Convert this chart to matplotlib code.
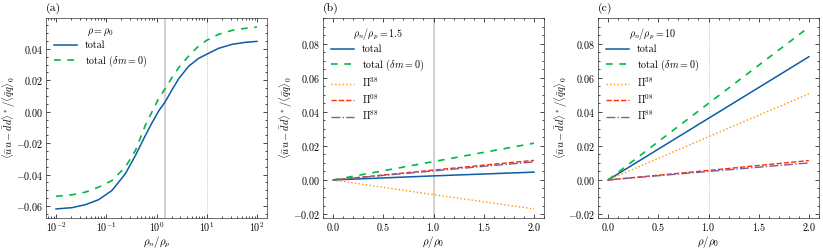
import matplotlib
matplotlib.use("Agg")
import matplotlib.pyplot as plt
import numpy as np
from matplotlib.ticker import MultipleLocator

plt.rcParams.update({
    "font.family": "serif",
    "font.serif": ["cmr10"],
    "mathtext.fontset": "cm",
    "axes.formatter.use_mathtext": True,
    "font.size": 7.2,
    "axes.labelsize": 8,
    "axes.linewidth": 0.5,
    "axes.edgecolor": "#333333",
    "xtick.direction": "in",
    "ytick.direction": "in",
    "xtick.top": True,
    "ytick.right": True,
    "xtick.minor.visible": True,
    "ytick.minor.visible": True,
    "xtick.major.size": 3,
    "ytick.major.size": 3,
    "xtick.minor.size": 1.5,
    "ytick.minor.size": 1.5,
    "xtick.major.width": 0.5,
    "ytick.major.width": 0.5,
    "xtick.minor.width": 0.5,
    "ytick.minor.width": 0.5,
    "xtick.major.pad": 2.0,
    "ytick.major.pad": 2.2,
    "legend.frameon": False,
})

C_BLUE, C_GREEN, C_ORANGE, C_RED, C_PURPLE = "#0C5DA5", "#00B945", "#FF9500", "#FF2C00", "#845B97"

# (a) rho = rho_0, vs rho_n/rho_p (log axis), read at log10 positions
log_ratio_a = [-2.0, -1.68, -1.416, -1.15, -0.885, -0.62, -0.42, -0.22, -0.089,
               0.044, 0.177, 0.309, 0.442, 0.641, 0.840, 1.0, 1.238, 1.504, 1.769, 2.0]
total_a = [-0.0619, -0.0611, -0.0592, -0.0560, -0.0501, -0.0395, -0.0279, -0.0150,
           -0.0070, 0.0005, 0.0065, 0.0140, 0.0210, 0.0290, 0.0340, 0.0366,
           0.0404, 0.0429, 0.0442, 0.0448]
total_dm0_a = [-0.0539, -0.0529, -0.0512, -0.0480, -0.0438, -0.0353, -0.0247, -0.0085,
               0.0000, 0.0085, 0.0150, 0.0218, 0.0281, 0.0355, 0.0419, 0.0455,
               0.0493, 0.0518, 0.0531, 0.0539]

# (b), (c) vs rho/rho_0
rho = [0.0, 0.5, 1.0, 1.5, 2.0]
b_total = [0.0, 0.0012, 0.0024, 0.0035, 0.0046]
b_total_dm0 = [0.0, 0.0054, 0.0108, 0.0162, 0.0216]
b_pi38 = [0.0, -0.0043, -0.0086, -0.0128, -0.0170]
b_pi08 = [0.0, 0.0029, 0.0058, 0.0087, 0.0115]
b_pi88 = [0.0, 0.0027, 0.0053, 0.0080, 0.0106]

c_total = [0.0, 0.0181, 0.0362, 0.0543, 0.0724]
c_total_dm0 = [0.0, 0.0225, 0.0450, 0.0674, 0.0898]
c_pi38 = [0.0, 0.0127, 0.0254, 0.0380, 0.0506]
c_pi08 = [0.0, 0.0028, 0.0056, 0.0085, 0.0114]
c_pi88 = [0.0, 0.0025, 0.0050, 0.0075, 0.0100]

ylab = r"$\langle \bar{u}u - \bar{d}d\rangle^* / \langle \bar{q}q\rangle_0$"

fig = plt.figure(figsize=(8.23, 2.49), dpi=100)
W, H = 823, 249
def box(x0, x1, y0=18, y1=218):
    return [x0 / W, 1 - y1 / H, (x1 - x0) / W, (y1 - y0) / H]

ax_a = fig.add_axes(box(46, 267))
ax_b = fig.add_axes(box(323, 544))
ax_c = fig.add_axes(box(598, 819), sharey=ax_b)

legend_kw = dict(loc="upper left", handlelength=2.3, fontsize=7.2, title_fontsize=7.2,
                 labelspacing=0.3, borderaxespad=0.4)

def labels(ax, xlab):
    ax.set_xlabel(xlab, fontsize=7.8)
    ax.set_ylabel(ylab, fontsize=7.6)
    ax.xaxis.set_label_coords(0.5, -0.082)
    ax.yaxis.set_label_coords(-0.128, 0.5)

# panel a
ratio_a = 10.0 ** np.array(log_ratio_a)
ax_a.axvline(1.5, color="#c8c8c8", lw=1.2, zorder=0)
ax_a.axvline(10, color="#9e9e9e", lw=0.5, ls=":", zorder=0)
ax_a.plot(ratio_a, total_a, color=C_BLUE, lw=1.1, label="total")
ax_a.plot(ratio_a, total_dm0_a, color=C_GREEN, lw=1.2, dashes=(4, 4), label=r"total ($\delta m=0$)")
ax_a.set_xscale("log")
ax_a.yaxis.set_major_locator(MultipleLocator(0.02))
ax_a.yaxis.set_minor_locator(MultipleLocator(0.005))
labels(ax_a, r"$\rho_n/\rho_p$")
ax_a.legend(title=r"$\rho=\rho_0$", **legend_kw)
ax_a.text(0.0, 1.02, "(a)", transform=ax_a.transAxes, fontsize=8.5, ha="left", va="bottom")

def panel(ax, vline_style, tot, tot0, p38, p08, p88, title, tag):
    if vline_style == "solid":
        ax.axvline(1.0, color="#c8c8c8", lw=1.2, zorder=0)
    else:
        ax.axvline(1.0, color="#9e9e9e", lw=0.5, ls=":", zorder=0)
    ax.plot(rho, tot, color=C_BLUE, lw=1.1, label="total")
    ax.plot(rho, tot0, color=C_GREEN, lw=1.2, dashes=(4, 4), label=r"total ($\delta m=0$)")
    ax.plot(rho, p38, color=C_ORANGE, lw=1.0, ls=":", label=r"$\Pi^{38}$")
    ax.plot(rho, p08, color=C_RED, lw=1.0, ls="--", label=r"$\Pi^{08}$")
    ax.plot(rho, p88, color=C_PURPLE, lw=1.0, ls="-.", label=r"$\Pi^{88}$")
    ax.xaxis.set_major_locator(MultipleLocator(0.5))
    ax.xaxis.set_minor_locator(MultipleLocator(0.1))
    ax.yaxis.set_major_locator(MultipleLocator(0.02))
    ax.yaxis.set_minor_locator(MultipleLocator(0.005))
    labels(ax, r"$\rho/\rho_0$")
    ax.legend(title=title, **legend_kw)
    ax.text(0.0, 1.02, tag, transform=ax.transAxes, fontsize=8.5, ha="left", va="bottom")
    ax.tick_params(labelleft=True)

panel(ax_b, "solid", b_total, b_total_dm0, b_pi38, b_pi08, b_pi88, r"$\rho_n/\rho_p=1.5$", "(b)")
panel(ax_c, "dotted", c_total, c_total_dm0, c_pi38, c_pi08, c_pi88, r"$\rho_n/\rho_p=10$", "(c)")

fig.savefig("out.png", dpi=100)
